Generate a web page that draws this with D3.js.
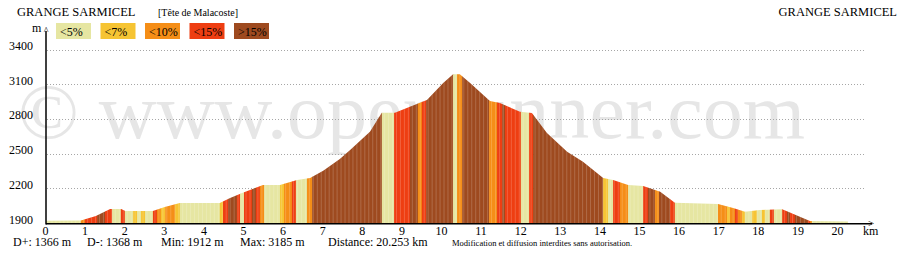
<!DOCTYPE html>
<html lang="fr">
<head>
<meta charset="UTF-8">
<title>Profil altimétrique - Grange Sarmicel</title>
<script src="https://d3js.org/d3.v7.min.js"></script>
<style>
body { margin: 0; background: #fff; }
svg { display: block; font-family: "Liberation Serif", "Times New Roman", serif; }
.grid line { stroke: #a6a6a6; stroke-width: 1; stroke-dasharray: 1,2; }
.tick text { font-family: "Liberation Serif", "Times New Roman", serif; fill: #000; }
</style>
</head>
<body>
<div id="chart"></div>
<script>
// --- profile (km, m) ---
const profileKm = [0, 0.88, 1.26, 1.62, 1.90, 2.00, 2.70, 3.00, 3.38, 4.39, 4.65, 4.97,
  5.48, 5.91, 6.34, 6.67, 7.00, 7.42, 7.68, 8.18, 8.48, 8.81, 9.19, 9.62, 10.03,
  10.28, 10.45, 10.71, 11.21, 11.46, 11.97, 12.27, 12.65, 13.16, 13.56, 14.07,
  14.32, 14.70, 15.08, 15.51, 15.88, 16.97, 17.35, 17.65, 18.03, 18.59, 19.29, 20.253];
const profileElev = [1920, 1922, 1960, 2021, 2020, 2004, 2004, 2038, 2073, 2073, 2116, 2162,
  2228, 2228, 2272, 2289, 2352, 2453, 2531, 2689, 2853, 2853, 2905, 2963, 3110,
  3185, 3185, 3110, 2954, 2937, 2862, 2851, 2678, 2516, 2430, 2289,
  2272, 2228, 2220, 2171, 2075, 2064, 2030, 1998, 2012, 2018, 1918, 1914];

// --- slope bands: start km and class (0 <5%, 1 <7%, 2 <10%, 3 <15%, 4 >15%) ---
const bandStart = [0, 0.88, 0.98, 1.29, 1.49, 1.67, 1.89, 1.99, 2.20, 2.30, 2.40, 2.50,
  2.70, 2.80, 2.90, 3.01, 3.26, 3.38, 4.39, 4.47, 4.60, 4.82, 4.90, 5.00, 5.20, 5.30,
  5.40, 5.51, 5.91, 6.01, 6.21, 6.31, 6.59, 6.72, 8.48, 8.79, 9.19, 9.39, 9.49, 9.60,
  10.28, 10.38, 10.51, 11.19, 11.39, 11.52, 11.59, 11.99, 12.20, 12.30, 14.07, 14.19,
  14.32, 14.49, 14.70, 15.08, 15.20, 15.38, 15.48, 15.76, 15.88, 16.97, 17.20, 17.27,
  17.40, 17.47, 17.58, 17.65, 17.83, 17.95, 18.08, 18.16, 18.28, 18.38, 18.59, 18.71,
  18.79, 18.91, 19.24, 19.29, 19.34];
const bandClass = [0, 2, 3, 4, 3, 0, 3, 0, 1, 0, 1, 0,
  3, 2, 1, 2, 1, 0, 1, 3, 4, 3, 0, 3, 4, 3,
  2, 0, 1, 2, 3, 0, 2, 4, 0, 3, 4, 2, 3, 4,
  0, 2, 4, 2, 3, 4, 3, 0, 3, 4, 1, 0,
  3, 2, 0, 3, 4, 2, 4, 3, 0, 2, 1, 2,
  3, 2, 1, 0, 1, 0, 1, 0, 3, 0, 3, 4,
  3, 4, 3, 2, 0];
const totalKm = 20.253;

const slopeLabels = ["<5%", "<7%", "<10%", "<15%", ">15%"];
const slopeColors = ["#e6e6a2", "#f6c433", "#f58e17", "#ee3e12", "#9e4a1f"];

const kmTicks = [0, 1, 2, 3, 4, 5, 6, 7, 8, 9, 10, 11, 12, 13, 14, 15, 16, 17, 18, 19, 20];
const elevTicks = [1900, 2200, 2500, 2800, 3100, 3400];

const statLabels = ["D+: 1366 m", "D-: 1368 m", "Min: 1912 m", "Max: 3185 m", "Distance: 20.253 km"];
const startName = "GRANGE SARMICEL", endName = "GRANGE SARMICEL", passName = "[Tête de Malacoste]";

// --- frame ---
const W = 910, H = 254;
const svg = d3.select("#chart").append("svg").attr("width", W).attr("height", H);
svg.append("rect").attr("width", W).attr("height", H).attr("fill", "#fff");

const x = d3.scaleLinear().domain([0, 20]).range([46, 838]);
const y = d3.scaleLinear().domain([1900, 3400]).range([223, 49.5]);

// watermark, sits behind everything
svg.append("text")
  .attr("x", 18).attr("y", 138)
  .attr("font-size", 78)
  .attr("textLength", 787).attr("lengthAdjust", "spacingAndGlyphs")
  .attr("fill", "#e6e6e6")
  .text("© www.openrunner.com");

// gridlines
svg.append("g").attr("class", "grid")
  .selectAll("line").data(elevTicks.filter(d => d > 1900)).join("line")
  .attr("x1", 47).attr("x2", 864)
  .attr("y1", d => Math.round(y(d)) + 0.5).attr("y2", d => Math.round(y(d)) + 0.5);

// --- profile: colour bands clipped by the elevation area ---
const points = profileKm.map((k, i) => [k, profileElev[i]]);
const area = d3.area().x(d => x(d[0])).y0(y(1900)).y1(d => y(d[1]));

const defs = svg.append("defs");
defs.append("clipPath").attr("id", "profileClip")
  .append("path").attr("d", area(points));
const pat = defs.append("pattern").attr("id", "stripes")
  .attr("patternUnits", "userSpaceOnUse")
  .attr("width", x(0.1) - x(0)).attr("height", 10);
pat.append("rect").attr("width", 0.8).attr("height", 10).attr("fill", "#fff").attr("opacity", 0.22);

const prof = svg.append("g").attr("clip-path", "url(#profileClip)");
prof.selectAll("rect.band").data(bandStart).join("rect")
  .attr("class", "band")
  .attr("x", d => x(d))
  .attr("width", (d, i) => x(i < bandStart.length - 1 ? bandStart[i + 1] : totalKm) - x(d) + 0.3)
  .attr("y", 40).attr("height", y(1900) - 40)
  .attr("fill", (d, i) => slopeColors[bandClass[i]]);
prof.append("rect")
  .attr("x", x(0)).attr("width", x(totalKm) - x(0))
  .attr("y", 40).attr("height", y(1900) - 40)
  .attr("fill", "url(#stripes)");

// --- axes ---
const xAxis = svg.append("g").attr("transform", `translate(-1,${y(1900)})`)
  .call(d3.axisBottom(x).tickValues(kmTicks).tickSize(0).tickFormat(d3.format("d")));
xAxis.select(".domain").remove();
xAxis.selectAll("text").attr("y", 12).attr("dy", 0).attr("font-size", 12);

const yAxis = svg.append("g").attr("transform", `translate(${x(0)},0)`)
  .call(d3.axisLeft(y).tickValues(elevTicks).tickSize(0).tickPadding(13).tickFormat(d3.format("d")));
yAxis.select(".domain").remove();
yAxis.selectAll("text").attr("dy", 0).attr("font-size", 12);

svg.append("line").attr("x1", x(0)).attr("x2", 872)
  .attr("y1", y(1900) + 0.75).attr("y2", y(1900) + 0.75)
  .attr("stroke", "#000").attr("stroke-width", 1.5);
svg.append("line").attr("x1", x(0)).attr("x2", x(0))
  .attr("y1", y(1900) + 1.5).attr("y2", 31)
  .attr("stroke", "#000").attr("stroke-width", 1.5);
svg.append("text").attr("x", 868).attr("y", 227).attr("font-size", 11).text(">");
svg.append("text").attr("x", 863).attr("y", 235).attr("font-size", 12).text("km");
svg.append("text").attr("x", x(0)).attr("y", 34).attr("text-anchor", "middle").attr("font-size", 10).text("^");
svg.append("text").attr("x", 32).attr("y", 32).attr("font-size", 12).text("m");

// --- titles ---
svg.append("text").attr("x", 17).attr("y", 16).attr("font-size", 12.5).text(startName);
svg.append("text").attr("x", 897).attr("y", 16).attr("font-size", 12.5).attr("text-anchor", "end").text(endName);
svg.append("text").attr("x", 158).attr("y", 16).attr("font-size", 10).text(passName);

// --- legend ---
const leg = svg.append("g").selectAll("g").data(slopeLabels).join("g")
  .attr("transform", (d, i) => `translate(${56 + i * 44.5},23)`);
leg.append("rect").attr("width", 35).attr("height", 16)
  .attr("fill", (d, i) => slopeColors[i]);
leg.append("text").attr("x", 4).attr("y", 12.5).attr("font-size", 12).text(d => d);

// --- stats line ---
const statX = [13, 87, 161, 240, 328];
svg.append("g").selectAll("text").data(statLabels).join("text")
  .attr("x", (d, i) => statX[i]).attr("y", 246).attr("font-size", 12).text(d => d);
svg.append("text").attr("x", 452).attr("y", 246).attr("font-size", 8.5)
  .text("Modification et diffusion interdites sans autorisation.");
</script>
</body>
</html>
